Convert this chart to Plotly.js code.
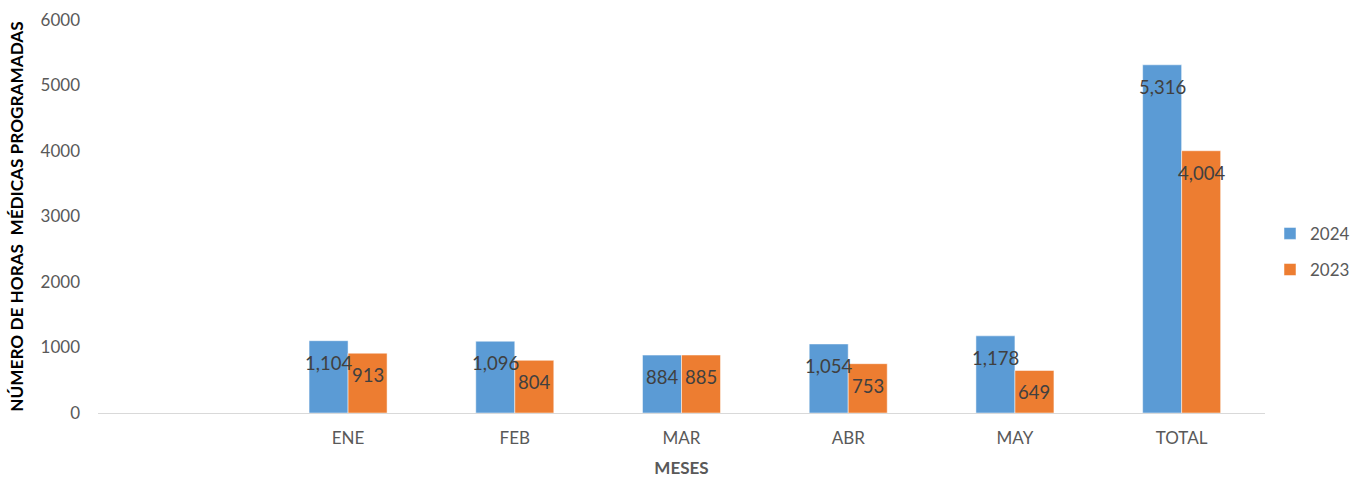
<!DOCTYPE html>
<html><head><meta charset="utf-8">
<script src="https://cdn.plot.ly/plotly-3.0.1.min.js"></script>
<style>body{margin:0;background:#fff}#c{width:1354px;height:478px}</style>
</head><body><div id="c"></div>
<script>
const categories = [" ", "ENE", "FEB", "MAR", "ABR", "MAY", "TOTAL"];
const values2024 = [null, 1104, 1096, 884, 1054, 1178, 5316];
const values2023 = [null, 913, 804, 885, 753, 649, 4004];
const seriesNames = ["2024", "2023"];

const font = "Lato, 'Open Sans', sans-serif";
const traces = [
  {type:'bar', name:seriesNames[0], legendgroup:'a', x:categories, y:values2024, marker:{color:'#5B9BD5', line:{color:'#ffffff', width:0.5}}, hoverinfo:'none'},
  {type:'bar', name:seriesNames[1], legendgroup:'b', x:categories, y:values2023, marker:{color:'#ED7D31', line:{color:'#ffffff', width:0.5}}, hoverinfo:'none'}
];
const annotations = [];
[values2024, values2023].forEach((vals, si) => {
  vals.forEach((v, i) => {
    if (v == null) return;
    annotations.push({x:categories[i], y:v, xref:'x', yref:'y', text:v.toLocaleString('en-US'),
      showarrow:false, xshift: si === 0 ? -19.5 : 19.5, yshift:-22, yanchor:'middle',
      font:{family:font, size:18.5, color:'#404040'}});
  });
});
const W = 1354, L = 98, R = 2, plotRight = 1265;
const layout = {
  width:W, height:478,
  margin:{l:L, r:R, t:20, b:65, autoexpand:false},
  paper_bgcolor:'#fff', plot_bgcolor:'#fff',
  barmode:'group', bargap:0.532, bargroupgap:0,
  font:{family:font, color:'#595959'},
  xaxis:{type:'category', domain:[0, (plotRight-L)/(W-L-R)], showgrid:false, showline:true, linecolor:'#d9d9d9', linewidth:1, ticks:'',
    tickfont:{size:17, color:'#595959'}, ticklabelstandoff:10, automargin:false,
    title:{text:'<b>MESES</b>', font:{size:17, color:'#595959'}, standoff:22}},
  yaxis:{range:[0,6000], tickvals:[0,1000,2000,3000,4000,5000,6000], showgrid:false, zeroline:false, showline:false,
    tickfont:{size:17, color:'#595959'}, ticks:'', ticklabelstandoff:17, automargin:false,
    title:{text:'<b>NÚMERO DE HORAS  MÉDICAS PROGRAMADAS</b>', font:{size:17.2, color:'#000'}, standoff:12}},
  legend:{x:(1270-L)/(W-L-R), xanchor:'left', y:0.41, yanchor:'middle', font:{size:17, color:'#595959'}, tracegroupgap:11, itemwidth:30},
  showlegend:true,
  annotations: annotations
};
Plotly.newPlot('c', traces, layout, {displayModeBar:false, staticPlot:true});
</script></body></html>
